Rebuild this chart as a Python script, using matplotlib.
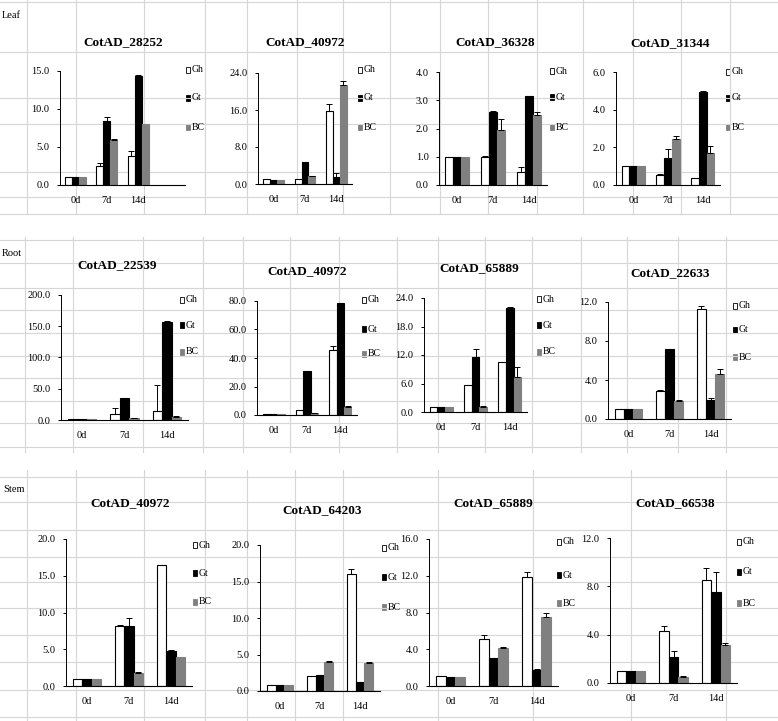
import matplotlib
matplotlib.use("Agg")
import matplotlib.pyplot as plt
from matplotlib.patches import Rectangle
import numpy as np

W, H = 778, 721

# ---------------- data ----------------
categories = ["0d", "7d", "14d"]
series = ["Gh", "Gt", "BC"]
row_labels = ["Leaf", "Root", "Stem"]

titles = ["CotAD_28252", "CotAD_40972", "CotAD_36328", "CotAD_31344",
          "CotAD_22539", "CotAD_40972", "CotAD_65889", "CotAD_22633",
          "CotAD_40972", "CotAD_64203", "CotAD_65889", "CotAD_66538"]

y_max = [15, 24, 4, 6, 200, 80, 24, 12, 20, 20, 16, 12]
y_step = [5, 8, 1, 2, 50, 20, 6, 4, 5, 5, 4, 4]

gh_vals = [[1.0, 2.5, 3.8], [1.0, 1.0, 15.8], [1.0, 1.0, 0.45], [1.0, 0.55, 0.39],
           [1.0, 9.6, 15.0], [0.8, 3.3, 45.9], [1.0, 5.6, 10.6], [1.0, 2.9, 11.3],
           [1.0, 8.2, 16.4], [0.87, 2.0, 16.0], [1.1, 5.1, 11.9], [1.0, 4.3, 8.5]]
gt_vals = [[1.0, 8.45, 14.4], [0.9, 4.7, 1.6], [0.98, 2.6, 3.15], [1.0, 1.46, 4.94],
           [1.0, 34.7, 157.0], [0.8, 31.0, 78.8], [1.0, 11.6, 21.8], [1.0, 7.17, 1.95],
           [1.0, 8.2, 4.8], [0.87, 2.15, 1.2], [1.0, 3.1, 1.75], [1.0, 2.16, 7.5]]
bc_vals = [[1.0, 5.9, 8.0], [0.9, 1.7, 21.4], [0.98, 1.95, 2.47], [1.0, 2.42, 1.68],
           [1.0, 2.7, 5.0], [0.8, 1.2, 5.8], [1.0, 1.05, 7.4], [1.0, 1.84, 4.57],
           [1.0, 1.8, 4.0], [0.87, 3.94, 3.84], [1.0, 4.1, 7.56], [1.0, 0.5, 3.13]]

gh_err = [[0.0, 0.35, 0.7], [0.0, 0.0, 1.5], [0.0, 0.03, 0.2], [0.0, 0.05, 0.0],
          [0.0, 9.1, 40.5], [0.0, 0.0, 2.4], [0.0, 0.0, 0.0], [0.0, 0.1, 0.3],
          [0.0, 0.1, 0.0], [0.0, 0.0, 0.7], [0.0, 0.5, 0.5], [0.0, 0.4, 1.0]]
gt_err = [[0.0, 0.55, 0.1], [0.0, 0.1, 0.7], [0.0, 0.02, 0.0], [0.0, 0.44, 0.06],
          [0.0, 1.3, 1.0], [0.0, 0.0, 0.0], [0.0, 1.6, 0.4], [0.0, 0.03, 0.25],
          [0.0, 1.1, 0.1], [0.0, 0.0, 0.1], [0.0, 0.0, 0.1], [0.0, 0.5, 1.7]]
bc_err = [[0.0, 0.1, 0.0], [0.0, 0.1, 0.9], [0.0, 0.39, 0.13], [0.0, 0.18, 0.38],
          [0.0, 1.0, 1.0], [0.0, 0.4, 0.7], [0.0, 0.25, 2.1], [0.0, 0.16, 0.53],
          [0.0, 0.15, 0.0], [0.0, 0.16, 0.1], [0.0, 0.15, 0.34], [0.0, 0.05, 0.17]]

# ---------------- layout (pixels) ----------------
# (x_left, x_right, y_top, y_bottom, n_categories)
axes_px = [(60, 185, 71, 185, 4), (258, 352, 73, 184, 3), (439, 547, 72, 185, 3), (616, 720, 72, 185, 3),
           (61, 188, 295, 420, 3), (257, 357, 301, 415, 3), (424, 527, 298, 412, 3), (608, 731, 302, 419, 3),
           (66, 192, 539, 686, 3), (260, 380, 545, 691, 3), (429, 558, 539, 686, 3), (610, 737, 538, 683, 3)]
title_px = [(123, 42), (305, 42), (495, 42), (670, 43),
            (117, 265), (307, 271), (479, 268), (670, 273),
            (130, 503), (322, 510), (493, 503), (675, 503)]
legend_px = [(186, 70, 98, 127), (358, 70, 98, 127), (550, 71, 97, 127), (726, 72, 98, 127),
             (180, 300, 325, 352), (362, 300, 329, 354), (537, 299, 325, 352), (733, 306, 330, 357),
             (193, 545, 573, 602), (382, 548, 577, 607), (557, 542, 575, 603), (737, 542, 572, 603)]
row_label_px = [(2, 15), (2, 253), (3, 490)]

grid_rows = [
    (0, 214, [27, 76, 144, 205, 247, 297, 343, 390, 440, 488, 537, 583, 633, 681, 730],
     [2, 52, 98, 124, 172, 197, 214]),
    (237, 452, [25, 73, 143, 203, 243, 290, 339, 397, 438, 485, 532, 581, 627, 678, 726],
     [240, 263, 288, 310, 333, 356, 378, 401, 423, 447]),
    (470, 721, [27, 76, 144, 205, 247, 295, 343, 438, 533, 631, 726],
     [477, 502, 530, 557, 582, 608, 635, 662, 690, 717]),
]

colors = ["white", "black", "#808080"]
edges = ["black", "black", "#808080"]
FONT = "Liberation Serif"

fig = plt.figure(figsize=(W / 100, H / 100), dpi=100)
fig.patch.set_facecolor("white")

bg = fig.add_axes([0, 0, 1, 1], zorder=-1)
bg.set_xlim(0, W)
bg.set_ylim(H, 0)
bg.axis("off")
gc = "#d6d6d6"
for y0, y1, xs, ys in grid_rows:
    for x in xs:
        bg.plot([x, x], [y0, y1], color=gc, lw=0.8)
    for y in ys:
        bg.plot([0, W], [y, y], color=gc, lw=0.8)

for (lx, ly), txt in zip(row_label_px, row_labels):
    bg.text(lx, ly, txt, fontsize=7.5, family=FONT, ha="left", va="center")

w = 0.222
offs = [-w, 0, w]
x = np.arange(len(categories))

for i in range(12):
    x0, x1, yt, yb, ncat = axes_px[i]
    ax = fig.add_axes([x0 / W, 1 - yb / H, (x1 - x0) / W, (yb - yt) / H])
    ax.patch.set_alpha(0)
    vals = [gh_vals[i], gt_vals[i], bc_vals[i]]
    errs = [gh_err[i], gt_err[i], bc_err[i]]
    for k in range(3):
        ax.bar(x + offs[k], vals[k], width=w, color=colors[k], edgecolor=edges[k],
               linewidth=0.8, zorder=2)
        e = np.array(errs[k])
        m = e > 0
        if m.any():
            ax.errorbar((x + offs[k])[m], np.array(vals[k])[m],
                        yerr=[np.zeros(m.sum()), e[m]], fmt="none",
                        ecolor="black", elinewidth=0.7, capsize=2.2, capthick=0.7, zorder=3)
    ax.set_xlim(-0.5, ncat - 0.5)
    ax.set_ylim(0, y_max[i])
    ticks = np.arange(0, y_max[i] + 1e-9, y_step[i])
    ax.set_yticks(ticks)
    ax.set_yticklabels([f"{v:.1f}" for v in ticks], family=FONT, fontsize=7.5)
    ax.set_xticks(x)
    ax.set_xticklabels(categories, family=FONT, fontsize=7.5)
    ax.tick_params(axis="x", length=0, pad=8)
    ax.tick_params(axis="y", direction="out", length=2.5, width=0.7, pad=5)
    for s in ["top", "right"]:
        ax.spines[s].set_visible(False)
    ax.spines["left"].set_linewidth(0.7)
    ax.spines["bottom"].set_linewidth(0.8)

    tx, ty = title_px[i]
    bg.text(tx, ty, titles[i], fontsize=9.5, fontweight="bold", family=FONT,
            ha="center", va="center")

    lx, gy, ty2, by = legend_px[i]
    for k, yy in enumerate([gy, ty2, by]):
        bg.add_patch(Rectangle((lx, yy - 3), 4.5, 6, facecolor=colors[k],
                               edgecolor=edges[k], lw=0.6))
        bg.text(lx + 6, yy, series[k], fontsize=7, family=FONT, ha="left", va="center")

fig.savefig("out.png", dpi=100, facecolor="white")
